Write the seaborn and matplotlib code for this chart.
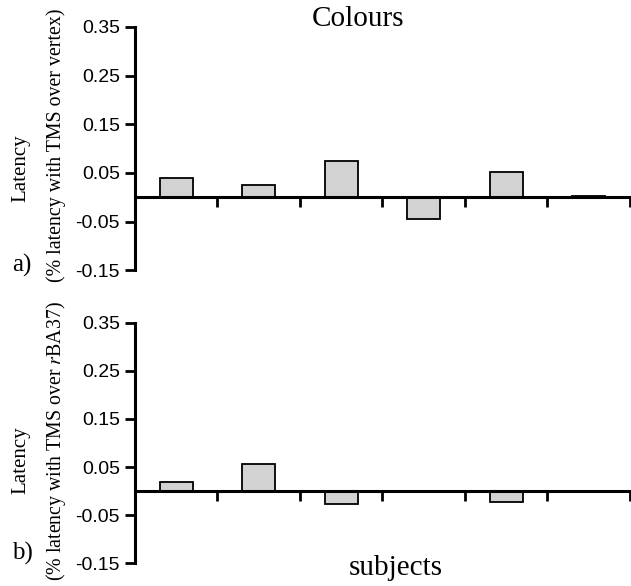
import matplotlib
matplotlib.use('Agg')
import seaborn as sns
import matplotlib.pyplot as plt

# values (one bar per subject)
subjects = ['1', '2', '3', '4', '5', '6']
vertex_values = [0.039, 0.026, 0.074, -0.045, 0.051, 0.003]
rba37_values = [0.019, 0.056, -0.026, 0.0, -0.022, 0.0]
y_ticks = [-0.15, -0.05, 0.05, 0.15, 0.25, 0.35]
y_tick_labels = ['-0.15', '-0.05', '0.05', '0.15', '0.25', '0.35']

sns.set_style('ticks')
plt.rcParams['font.family'] = ['Liberation Sans', 'DejaVu Sans']
plt.rcParams['mathtext.fontset'] = 'stix'
plt.rcParams['axes.edgecolor'] = 'black'
plt.rcParams['xtick.color'] = 'black'
plt.rcParams['ytick.color'] = 'black'
plt.rcParams['text.color'] = 'black'
serif = ['Liberation Serif', 'DejaVu Serif']

fig = plt.figure(figsize=(6.31, 5.86), dpi=100)
ax_a = fig.add_axes([0.214, 0.539, 0.784, 0.415])
ax_b = fig.add_axes([0.214, 0.039, 0.784, 0.410])


def draw_panel(ax, values):
    sns.barplot(x=subjects, y=values, ax=ax, color='#d2d2d2', saturation=1,
                width=0.4, edgecolor='black', linewidth=1.3)
    ax.set_xlim(-0.5, 5.5)
    ax.set_ylim(-0.15, 0.35)
    ax.set_yticks(y_ticks)
    ax.set_yticklabels(y_tick_labels, fontsize=14)
    ax.set_xticks([0.5, 1.5, 2.5, 3.5, 4.5, 5.5])
    ax.set_xticklabels([])
    ax.set_xlabel('')
    ax.set_ylabel('')
    for s in ['top', 'right']:
        ax.spines[s].set_visible(False)
    ax.spines['bottom'].set_position(('data', 0))
    ax.spines['bottom'].set_linewidth(2.2)
    ax.spines['left'].set_linewidth(2.2)
    ax.tick_params(axis='y', left=True, direction='out', length=7, width=2,
                   pad=4, labelcolor='black')
    ax.tick_params(axis='x', bottom=True, direction='out', length=7, width=2)
    ax.patch.set_alpha(0)


draw_panel(ax_a, vertex_values)
draw_panel(ax_b, rba37_values)

# titles and labels
fig.text(358 / 631, 1 - 19 / 586, 'Colours', family=serif, fontsize=21,
         ha='center', va='center')
fig.text(396 / 631, 1 - 568 / 586, 'subjects', family=serif, fontsize=21,
         ha='center', va='center')

fig.text(21 / 631, 1 - 168 / 586, 'Latency', family=serif, fontsize=15,
         rotation=90, ha='center', va='center')
fig.text(56 / 631, 1 - 145 / 586, '(% latency with TMS over vertex)',
         family=serif, fontsize=14.3, rotation=90, ha='center', va='center')
fig.text(21 / 631, 1 - 460 / 586, 'Latency', family=serif, fontsize=15,
         rotation=90, ha='center', va='center')
fig.text(56 / 631, 1 - 441 / 586, '(% latency with TMS over $r$BA37)',
         family=serif, fontsize=14.3, rotation=90, ha='center', va='center')

fig.text(22 / 631, 1 - 265 / 586, 'a)', family=serif, fontsize=18,
         ha='center', va='center')
fig.text(22 / 631, 1 - 553 / 586, 'b)', family=serif, fontsize=18,
         ha='center', va='center')

fig.savefig('out.png', dpi=100)
